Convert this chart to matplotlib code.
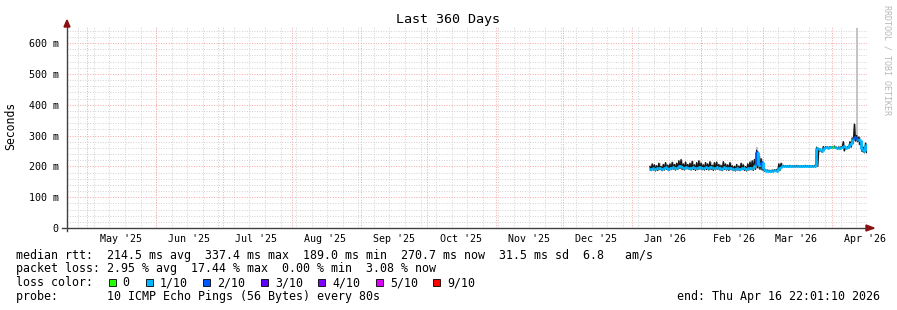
import datetime as dt

import matplotlib
matplotlib.use("Agg")
import matplotlib.pyplot as plt
import matplotlib.dates as mdates
from matplotlib.collections import LineCollection
from matplotlib.patches import Polygon, Rectangle

# Time window of the graph
START = dt.datetime(2025, 4, 21, 22, 1, 10)
END = dt.datetime(2026, 4, 16, 22, 1, 10)
FIRST_DAY = dt.datetime(2026, 1, 9)

# Daily median rtt (ms), Jan 9 .. Apr 16 2026
median_ms = [
    # Jan 9-31
    192, 195, 190, 194, 196, 191, 193, 197, 192, 195, 198, 194, 196, 200, 197,
    195, 199, 196, 194, 197, 193, 195, 198,
    # Feb
    196, 194, 197, 195, 198, 193, 196, 199, 194, 192, 197, 195, 193, 196, 192,
    190, 194, 191, 195, 193, 190, 194, 196, 193, 205, 245, 205, 215,
    # Mar
    190, 186, 186, 185, 186, 187, 186, 195, 200, 201, 200, 200, 201, 200, 200,
    201, 200, 200, 200, 201, 200, 200, 200, 201, 258, 255, 250, 258, 262, 261,
    262,
    # Apr 1-16
    262, 262, 260, 261, 262, 265, 261, 262, 272, 288, 295, 290, 285, 255, 250,
    270,
]
# dark smoke band (ms)
smoke_hi = [
    200, 208, 205, 202, 210, 200, 206, 212, 204, 208, 213, 206, 210, 218, 222,
    208, 214, 206, 210, 216, 205, 212, 218,
    210, 205, 212, 208, 215, 204, 212, 214, 206, 203, 215, 208, 205, 212, 202,
    200, 206, 201, 210, 205, 199, 208, 214, 218, 222, 252, 235, 225,
    192, 189, 188, 187, 188, 189, 190, 208, 210, 203, 202, 202, 203, 202, 202,
    203, 202, 202, 202, 203, 202, 202, 202, 203, 262, 258, 252, 264, 264, 263,
    264,
    264, 266, 262, 263, 264, 280, 263, 264, 280, 292, 337, 300, 295, 270, 262,
    275,
]
smoke_lo = [
    186, 188, 185, 187, 189, 186, 188, 190, 186, 189, 191, 188, 190, 193, 190,
    188, 192, 190, 188, 190, 187, 189, 191,
    189, 188, 190, 188, 190, 187, 189, 191, 188, 186, 190, 188, 187, 189, 186,
    185, 188, 186, 189, 187, 185, 188, 189, 187, 190, 195, 190, 188,
    184, 184, 184, 183, 184, 185, 184, 187, 198, 199, 198, 198, 199, 198, 198,
    199, 198, 198, 198, 199, 198, 198, 198, 199, 200, 250, 246, 254, 259, 258,
    259,
    259, 258, 257, 258, 259, 250, 258, 259, 262, 275, 282, 280, 270, 248, 244,
    245,
]
# light outer smoke (ms), only visible where it rises above the dark band
smoke_max = list(smoke_hi)
smoke_max[23 + 25] = 262
smoke_max[23 + 28 + 31 + 11] = 650

# lost pings out of 10 per day
loss_tenths = [1] * 98
loss_tenths[23 + 25] = 2
loss_tenths[23 + 27] = 2
loss_tenths[23 + 28 + 31 + 0] = 0
loss_tenths[23 + 28 + 31 + 10] = 2
loss_tenths[23 + 28 + 31 + 11] = 2

LOSS_LEVELS = ["0", "1/10", "2/10", "3/10", "4/10", "5/10", "9/10"]
LOSS_COLORS = ["#26ff00", "#00b8ff", "#0059ff", "#5e00ff", "#7e00ff",
               "#dd00ff", "#ff0000"]

Y_TICKS = [0, 100, 200, 300, 400, 500, 600]
Y_LABELS = ["0", "100 m", "200 m", "300 m", "400 m", "500 m", "600 m"]

STATS_RTT = ("median rtt:  214.5 ms avg  337.4 ms max  189.0 ms min  "
             "270.7 ms now  31.5 ms sd  6.8   am/s")
STATS_LOSS = "packet loss: 2.95 % avg  17.44 % max  0.00 % min  3.08 % now"
PROBE = "probe:       10 ICMP Echo Pings (56 Bytes) every 80s"
END_TEXT = "end: Thu Apr 16 22:01:10 2026"

MONO = "DejaVu Sans Mono"
W, H = 897, 310


def loss_color(n):
    if n >= 9:
        return LOSS_COLORS[6]
    if n >= 5:
        return LOSS_COLORS[5]
    return LOSS_COLORS[n]


def main() -> None:
    plt.rcParams["font.family"] = MONO
    fig = plt.figure(figsize=(W / 100, H / 100), dpi=100)
    fig.patch.set_facecolor("white")
    ax = fig.add_axes([67 / W, (H - 228) / H, 800 / W, 202 / H])
    ax.set_facecolor("white")
    ax.set_xlim(mdates.date2num(START), mdates.date2num(END))
    ax.set_ylim(0, 202 / 0.30833)
    for s in ax.spines.values():
        s.set_visible(False)

    dot = (0, (1, 1.6))
    gray, red = "#d2d2d2", "#f4a6a6"
    # horizontal grid
    for v in range(20, 660, 20):
        if v % 100:
            ax.axhline(v, color=gray, lw=0.7, ls=dot, zorder=0)
    for v in Y_TICKS[1:]:
        ax.axhline(v, color=red, lw=0.7, ls=dot, zorder=0.5)
    # vertical grid: weeks (Sundays) and months
    d = dt.datetime(2025, 4, 27)
    while d < END:
        ax.axvline(mdates.date2num(d), color=gray, lw=0.7, ls=dot, zorder=0)
        d += dt.timedelta(days=7)
    months = []
    y, m = 2025, 5
    while dt.datetime(y, m, 1) < END:
        months.append(dt.datetime(y, m, 1))
        m += 1
        if m > 12:
            y, m = y + 1, 1
    for mo in months:
        ax.axvline(mdates.date2num(mo), color=red, lw=0.7, ls=dot, zorder=0.5)

    # data
    days = [FIRST_DAY + dt.timedelta(days=i) for i in range(len(median_ms))]
    edges = [mdates.date2num(x) for x in days] + [mdates.date2num(END)]
    ax.stairs(smoke_max, edges, baseline=smoke_lo, fill=True,
              color="#c4c4c4", lw=0, zorder=2)

    # dark smoke as a jagged line running between low and high of each day
    zx, zy = [], []
    for i in range(len(median_ms)):
        t = edges[i]
        zx += [t + 0.25, t + 0.75]
        zy += [smoke_hi[i], smoke_lo[i]]
    ax.plot(zx, zy, color="#161616", lw=1.0, zorder=3)

    segs, cols = [], []
    for i, v in enumerate(median_ms):
        segs.append([(edges[i], v), (edges[i + 1], v)])
        cols.append(loss_color(loss_tenths[i]))
        if i + 1 < len(median_ms):
            segs.append([(edges[i + 1], v), (edges[i + 1], median_ms[i + 1])])
            cols.append(loss_color(loss_tenths[i + 1]))
    ax.add_collection(LineCollection(segs, colors=cols, linewidths=2.0,
                                     zorder=4, capstyle="butt"))

    # axes ticks
    ax.set_yticks(Y_TICKS, Y_LABELS, fontsize=7.2, family=MONO)
    ax.tick_params(axis="y", length=0, pad=6)
    label_pos = [mdates.date2num(mo + dt.timedelta(days=15)) for mo in months]
    label_txt = [mo.strftime("%b '%y") for mo in months]
    ax.set_xticks(label_pos, label_txt, fontsize=7.2, family=MONO)
    ax.tick_params(axis="x", length=0, pad=4)

    # axis lines with arrows
    axc = "#404040"
    ax.plot([-5 / 800, 806 / 800], [0, 0], transform=ax.transAxes,
            color=axc, lw=1, clip_on=False, zorder=6)
    ax.plot([0, 0], [-3 / 202, 204 / 202], transform=ax.transAxes,
            color=axc, lw=1, clip_on=False, zorder=6)
    arrow = "#8b1010"
    ax.add_patch(Polygon([(799 / 800, 3 / 202), (799 / 800, -3 / 202),
                          (807 / 800, 0)], closed=True, transform=ax.transAxes,
                         color=arrow, clip_on=False, zorder=7))
    ax.add_patch(Polygon([(-3 / 800, 201 / 202), (3 / 800, 201 / 202),
                          (0, 208 / 202)], closed=True, transform=ax.transAxes,
                         color=arrow, clip_on=False, zorder=7))

    # titles
    fig.text(448 / W, 1 - 19 / H, "Last 360 Days", ha="center", va="center",
             fontsize=9.6, family=MONO)
    fig.text(11 / W, 1 - 126 / H, "Seconds", ha="center", va="center",
             rotation=90, fontsize=8.3, family=MONO)
    fig.text(887 / W, 1 - 5 / H, "RRDTOOL / TOBI OETIKER", ha="center",
             va="top", rotation=270, fontsize=6, family=MONO, color="#b8b8b8")

    # legend block
    fs = 8.37
    fig.text(16 / W, 1 - 255 / H, STATS_RTT, va="center", fontsize=fs, family=MONO)
    fig.text(16 / W, 1 - 268.5 / H, STATS_LOSS, va="center", fontsize=fs, family=MONO)
    fig.text(16 / W, 1 - 282.5 / H, "loss color:", va="center", fontsize=fs,
             family=MONO)
    box_x = [108.7, 146, 203.3, 261, 318.3, 376, 433.3]
    for bx, lab, c in zip(box_x, LOSS_LEVELS, LOSS_COLORS):
        fig.patches.append(Rectangle((bx / W, 1 - 286 / H), 7 / W, 7 / H,
                                     transform=fig.transFigure, facecolor=c,
                                     edgecolor="black", lw=0.6))
        fig.text((bx + 14) / W, 1 - 282.5 / H, lab, va="center", fontsize=fs,
                 family=MONO)
    fig.text(16 / W, 1 - 296.5 / H, PROBE, va="center", fontsize=fs, family=MONO)
    fig.text(880 / W, 1 - 296.5 / H, END_TEXT, ha="right", va="center",
             fontsize=fs, family=MONO)

    fig.savefig("out.png", dpi=100, facecolor="white")


if __name__ == "__main__":
    main()
